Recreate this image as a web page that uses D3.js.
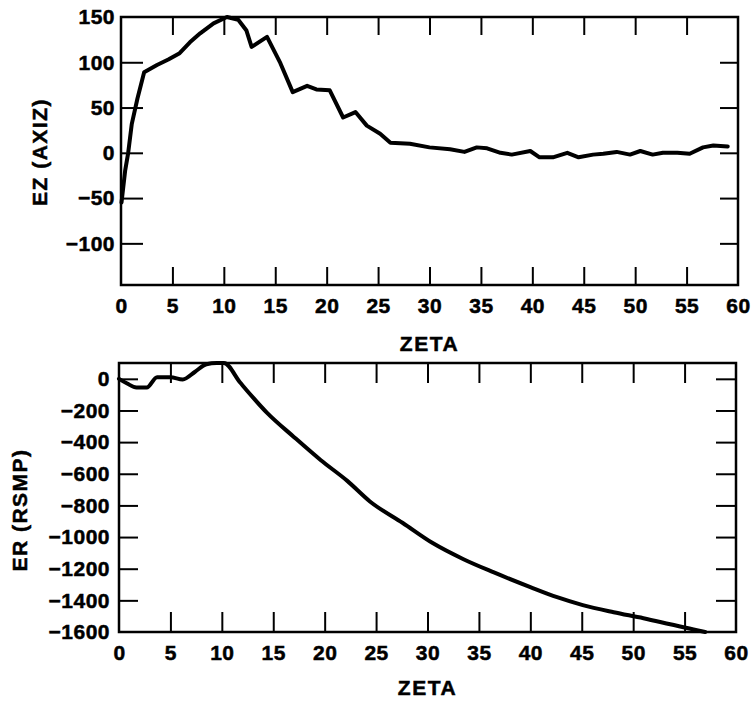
<!DOCTYPE html>
<html lang="en">
  <head>
    <meta charset="UTF-8" />
    <title>EZ and ER versus ZETA</title>
    <script src="https://d3js.org/d3.v7.min.js"></script>
    <style>
      body {
        margin: 0;
        background: #fff;
      }
      text {
        font-family: "Liberation Sans", Arial, Helvetica, sans-serif;
        font-weight: bold;
        font-size: 21px;
        fill: #000;
        stroke: #000;
        stroke-width: 0.5px;
      }
      .tick text {
        letter-spacing: 0.5px;
      }
      .title {
        letter-spacing: 1.5px;
      }
      .frame {
        fill: none;
        stroke: #000;
        stroke-width: 2.5;
      }
      .ticks line {
        stroke: #000;
        stroke-width: 2;
      }
      .curve {
        fill: none;
        stroke: #000;
        stroke-width: 4;
        stroke-linejoin: round;
        stroke-linecap: round;
      }
    </style>
  </head>
  <body>
    <svg id="chart" width="752" height="702"></svg>
    <script>
      // values
      const ezZeta = [0.05, 0.4, 0.7, 1.05, 1.6, 2.25, 3.5, 4.6, 5.7, 6.7, 7.7, 9.0, 10.3, 11.4, 12.2, 12.7, 14.2,
        15.5, 16.7, 18.1, 19.0, 20.3, 21.6, 22.8, 23.9, 25.2, 26.2, 28.1, 30, 32, 33.4, 34.6, 35.6, 36.9, 38,
        39.8, 40.7, 42, 43.4, 44.5, 45.9, 46.9, 48.2, 49.5, 50.5, 51.7, 52.7, 54.1, 55.3, 56.6, 57.6, 59];
      const ezValue = [-55, -20, 0, 32, 60, 89, 97, 103, 110, 122, 132, 143, 150, 147, 135, 117, 128,
        99, 67, 74, 70, 69, 39, 45, 30, 21, 11, 10, 6, 4, 1, 6, 5, 0, -2,
        2, -5, -5, 0, -5, -2, -1, 1, -2, 2, -2, 0, 0, -1, 6, 8, 7];

      const erZeta = [0, 0.8, 1.7, 2.7, 3.7, 5, 6.2, 7.4, 8.5, 9.5, 10.2, 11.8, 14.4, 17, 19.6, 22.2, 24.4,
        27.6, 30.5, 33.5, 36.4, 40, 42.6, 45.1, 48.1, 51, 53.6, 56.2, 57];
      const erValue = [0, -30, -55, -55, 10, 10, -4, 45, 92, 100, 100, -25, -215, -367, -513, -645, -775,
        -911, -1038, -1140, -1222, -1316, -1380, -1430, -1475, -1513, -1551, -1589, -1600];

      const xTickLabels = [0, 5, 10, 15, 20, 25, 30, 35, 40, 45, 50, 55, 60];
      const xTickMarks = [5, 10, 15, 20, 25, 30, 35, 40, 45, 50, 55];
      const ezTickLabels = [150, 100, 50, 0, -50, -100];
      const ezTickMarks = [100, 50, 0, -50, -100];
      const erTickLabels = [0, -200, -400, -600, -800, -1000, -1200, -1400, -1600];
      const erTickMarks = [0, -200, -400, -600, -800, -1000, -1200, -1400];

      const svg = d3.select("#chart");

      function drawPanel(opts) {
        const { left, right, top, bottom, yDomain, zeta, values, curve, yLabels, yMarks, yTitle, titleX, titleY,
          xTitleY, yPad, tickLen, leftTickLen } = opts;

        const x = d3.scaleLinear().domain([0, 60]).range([left, right]);
        const y = d3.scaleLinear().domain(yDomain).range([bottom, top]);
        const fmt = d3.format("d");

        // labels (no tick lines)
        svg.append("g")
          .attr("transform", `translate(0,${bottom})`)
          .call(d3.axisBottom(x).tickValues(xTickLabels).tickSize(0).tickPadding(13).tickFormat(fmt))
          .call((g) => g.select(".domain").remove())
          .call((g) => g.attr("font-size", null).attr("font-family", null));

        svg.append("g")
          .attr("transform", `translate(${left},0)`)
          .call(d3.axisLeft(y).tickValues(yLabels).tickSize(0).tickPadding(yPad).tickFormat(fmt))
          .call((g) => g.select(".domain").remove())
          .call((g) => g.attr("font-size", null).attr("font-family", null));

        // inward ticks on all four sides
        const tickAxes = [
          [d3.axisBottom(x).tickValues(xTickMarks).tickSizeInner(-tickLen), `translate(0,${bottom})`],
          [d3.axisTop(x).tickValues(xTickMarks).tickSizeInner(-tickLen), `translate(0,${top})`],
          [d3.axisLeft(y).tickValues(yMarks).tickSizeInner(-leftTickLen), `translate(${left},0)`],
          [d3.axisRight(y).tickValues(yMarks).tickSizeInner(-tickLen), `translate(${right},0)`],
        ];
        tickAxes.forEach(([axis, tr]) => {
          svg.append("g")
            .attr("class", "ticks")
            .attr("transform", tr)
            .call(axis.tickSizeOuter(0).tickFormat(""))
            .call((g) => g.select(".domain").remove());
        });

        svg.append("rect")
          .attr("class", "frame")
          .attr("x", left)
          .attr("y", top)
          .attr("width", right - left)
          .attr("height", bottom - top);

        const line = d3.line()
          .curve(curve)
          .x((d) => x(d[0]))
          .y((d) => y(d[1]));

        svg.append("path")
          .attr("class", "curve")
          .attr("d", line(d3.zip(zeta, values)));

        svg.append("text")
          .attr("class", "title")
          .attr("text-anchor", "middle")
          .attr("transform", `translate(${titleX},${titleY}) rotate(-90)`)
          .attr("dy", "0.35em")
          .text(yTitle);

        svg.append("text")
          .attr("class", "title")
          .attr("text-anchor", "middle")
          .attr("x", (left + right) / 2)
          .attr("y", xTitleY)
          .text("ZETA");
      }

      drawPanel({
        left: 121, right: 738, top: 17, bottom: 285,
        yDomain: [-146, 150],
        zeta: ezZeta, values: ezValue, curve: d3.curveLinear,
        yLabels: ezTickLabels, yMarks: ezTickMarks,
        yTitle: "EZ (AXIZ)", titleX: 40, titleY: 152,
        xTitleY: 351, yPad: 6, tickLen: 18, leftTickLen: 22,
      });

      drawPanel({
        left: 119, right: 736, top: 363, bottom: 632,
        yDomain: [-1600, 100],
        zeta: erZeta, values: erValue, curve: d3.curveMonotoneX,
        yLabels: erTickLabels, yMarks: erTickMarks,
        yTitle: "ER (RSMP)", titleX: 20, titleY: 510,
        xTitleY: 695, yPad: 9, tickLen: 20, leftTickLen: 19,
      });
    </script>
  </body>
</html>
